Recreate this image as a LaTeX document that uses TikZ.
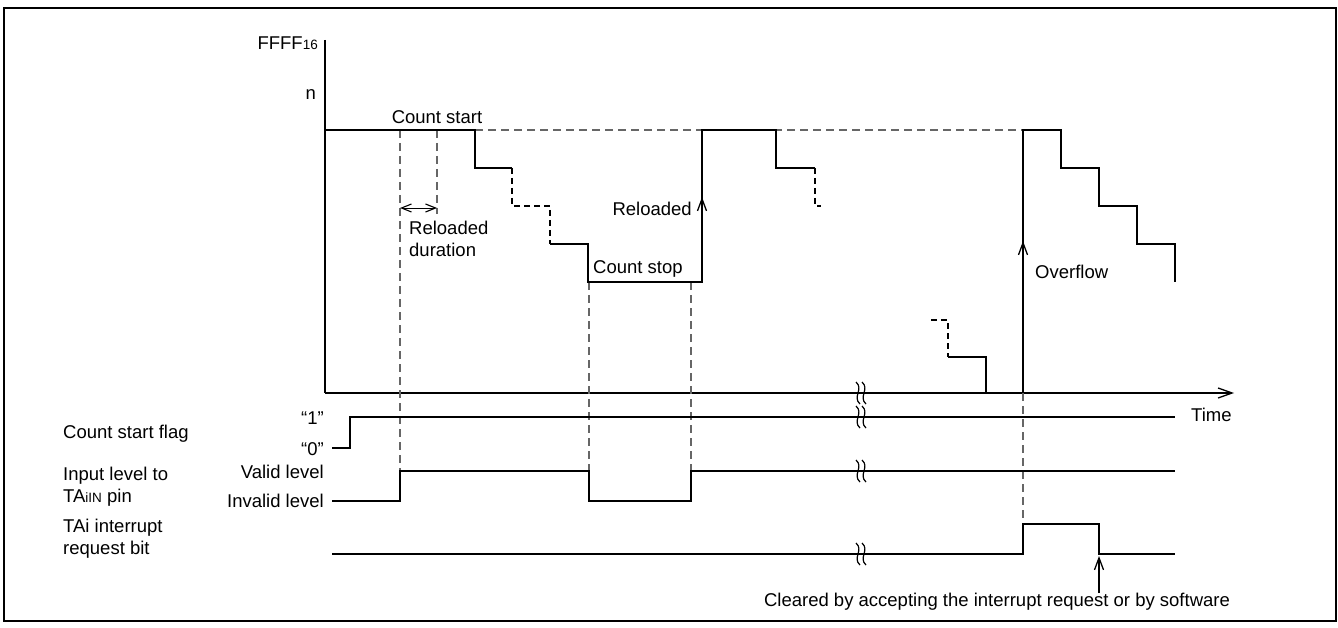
\documentclass[tikz,border=0pt]{standalone}
\usepackage{fontspec}
\setmainfont{Liberation Sans}
\usetikzlibrary{arrows.meta}
\tikzset{
  x=1pt, y=-1pt,
  wave/.style={line width=1.5pt, line join=miter},
  wavedash/.style={line width=1.5pt, dash pattern=on 6pt off 4pt},
  guide/.style={line width=1.2pt, draw=black!60, dash pattern=on 8pt off 5pt},
  lbl/.style={inner sep=0pt, font=\fontsize{18.5}{22}\selectfont},
  tip/.style={-{Straight Barb[length=12pt,width=9pt,line width=1.3pt]}},
  dtip/.style={{Straight Barb[length=10pt,width=8pt,line width=1.1pt]}-{Straight Barb[length=10pt,width=8pt,line width=1.1pt]}},
  brk/.style={line width=1.2pt}
}
\newcommand{\brkmark}[2]{%
  \draw[brk] (#1-3,#2-11) .. controls (#1+5,#2-4) and (#1-7,#2+4) .. (#1+1,#2+11);
  \draw[brk] (#1+3,#2-11) .. controls (#1+11,#2-4) and (#1-1,#2+4) .. (#1+7,#2+11);}
\begin{document}
\begin{tikzpicture}
\useasboundingbox (0,0) rectangle (1338,628);
\draw[line width=2.6pt] (4,8) rectangle (1336,621);

% axes
\coordinate (ytop) at (325,40);
\coordinate (orig) at (325,393);
\coordinate (tend) at (1234,393);
\draw[wave] (ytop) -- (orig);
\draw[wave, -{Straight Barb[length=14pt,width=10pt,line width=1.3pt]}] (orig) -- (tend);

% axis labels
\node[lbl, anchor=east] (ffff) at (318,43) {FFFF{\fontsize{13.5}{14}\selectfont 16}};
\node[lbl, anchor=east] (nlab) at (316,95) {n};
\node[lbl] (cstart) at (437,117) {Count start};
\node[lbl, anchor=west] (time) at (1191,415) {Time};

% guide lines
\draw[guide] (475,130) -- (1023,130);
\draw[guide] (400,130) -- (400,471);
\draw[guide] (437,130) -- (437,214);
\draw[guide] (589,282) -- (589,471);
\draw[guide] (691,282) -- (691,471);
\draw[guide] (1023,393) -- (1023,524);

% reload duration arrow
\coordinate (rd1) at (400,208);
\coordinate (rd2) at (437,208);
\draw[dtip] (rd1) -- (rd2);
\node[lbl, anchor=north west, align=left] (rdur) at (409,221) {Reloaded\\duration};

% counter staircase 1
\draw[wave] (325,130) -- (475,130) -- (475,168) -- (512,168);
\draw[wavedash] (512,168) -- (512,206) -- (550,206) -- (550,244);
\draw[wave] (550,244) -- (588,244) -- (588,282) -- (702,282) -- (702,196);
\draw[wave, tip] (702,230) -- (702,197);
\draw[wave] (702,200) -- (702,130) -- (776,130) -- (776,168) -- (815,168);
\draw[wavedash] (815,168) -- (815,206) -- (821,206);
\node[lbl, anchor=east] (reloaded) at (692,209) {Reloaded};
\node[lbl, anchor=west] (cstop) at (593,269) {Count stop};

% near underflow
\draw[wavedash] (931,320) -- (948,320) -- (948,357);
\draw[wave] (948,357) -- (986,357) -- (986,393);

% overflow
\draw[wave] (1023,393) -- (1023,240);
\draw[wave, tip] (1023,270) -- (1023,241);
\draw[wave] (1023,245) -- (1023,130) -- (1061,130) -- (1061,168) -- (1099,168) -- (1099,206) -- (1137,206) -- (1137,244) -- (1175,244) -- (1175,282);
\node[lbl, anchor=west] (ovf) at (1035,272) {Overflow};

% signals
\draw[wave] (332,448) -- (350,448) -- (350,417) -- (1175,417);
\draw[wave] (332,501) -- (400,501) -- (400,471) -- (589,471) -- (589,501) -- (691,501) -- (691,471) -- (1175,471);
\draw[wave] (332,554) -- (1023,554) -- (1023,524) -- (1099,524) -- (1099,554) -- (1175,554);

% break marks
\brkmark{859}{393}
\brkmark{859}{417}
\brkmark{859}{471}
\brkmark{859}{554}

% signal labels
\node[lbl, anchor=east] (one) at (324,418) {“1”};
\node[lbl, anchor=east] (zero) at (324,449) {“0”};
\node[lbl, anchor=east] (valid) at (324,472) {Valid level};
\node[lbl, anchor=east] (invalid) at (324,501) {Invalid level};
\node[lbl, anchor=west] (csf) at (63,434) {Count start flag};
\node[lbl, anchor=west, align=left] (inlev) at (63,487) {Input level to\\TA{\fontsize{13.5}{14}\selectfont iIN} pin};
\node[lbl, anchor=west, align=left] (tairq) at (63,539) {TAi interrupt\\request bit};

% cleared note
\node[lbl] (cleared) at (997,602) {Cleared by accepting the interrupt request or by software};
\coordinate (clr) at (1099,556);
\draw[line width=1.1pt, tip] (cleared.north -| clr) -- (clr);
\end{tikzpicture}
\end{document}
